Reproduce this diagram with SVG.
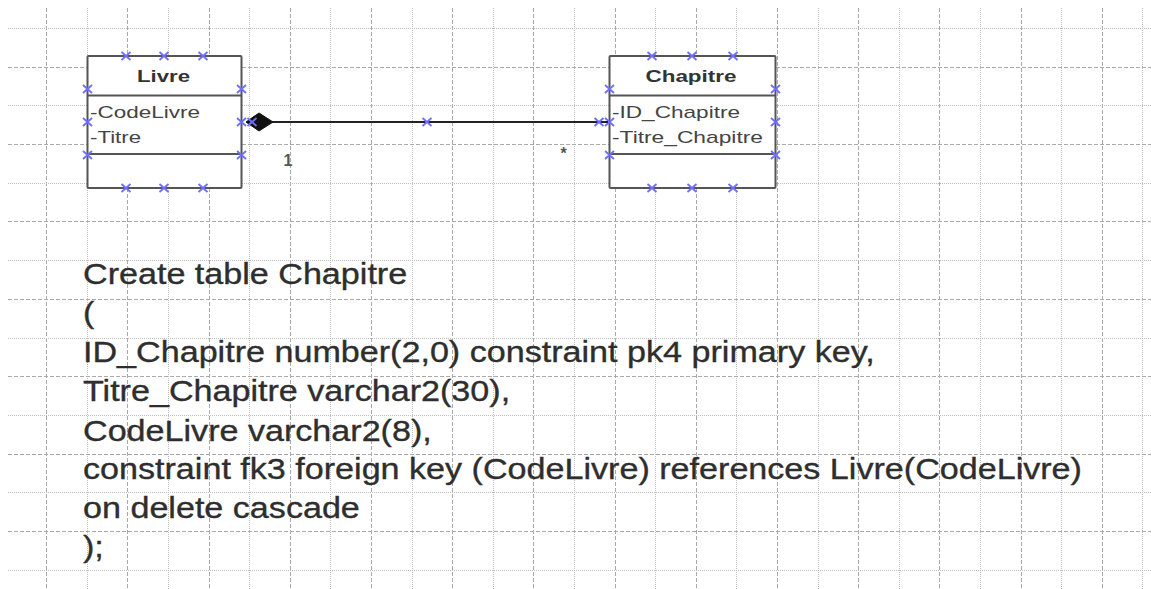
<svg xmlns="http://www.w3.org/2000/svg" xmlns:xlink="http://www.w3.org/1999/xlink" width="1151" height="589" viewBox="0 0 1151 589">
<style>
.gdash{stroke:#aaaaaa;stroke-width:1;stroke-dasharray:4 2;fill:none}
.gdot{stroke:#bdbdbd;stroke-width:1;stroke-dasharray:1 1;fill:none}
.box{fill:#fff;stroke:#555;stroke-width:2}
.div{stroke:#555;stroke-width:2}
.title{font-family:"Liberation Sans",Arial,sans-serif;font-weight:bold;font-size:17px;fill:#333}
.attr{font-family:"Liberation Sans",Arial,sans-serif;font-size:17px;fill:#444}
.sql{font-family:"Liberation Sans",Arial,sans-serif;font-size:29.5px;fill:#2e2e2e;stroke:#2e2e2e;stroke-width:0.35}
.lbl{font-family:"Liberation Sans",Arial,sans-serif;font-size:16px;font-weight:bold;fill:#555}
.xm{stroke:#6f6fff;stroke-width:1.8;fill:none}
</style>
<defs>
<path id="xm" class="xm" d="M-4.5,-4L4.5,4M-4.5,4L4.5,-4"/>
</defs>
<rect width="1151" height="589" fill="#fff"/>
<g id="grid">
<path class="gdash" d="M46.5 8V589M127.5 8V589M209.5 8V589M290.5 8V589M371.5 8V589M452.5 8V589M533.5 8V589M615.5 8V589M696.5 8V589M777.5 8V589M858.5 8V589M939.5 8V589M1021.5 8V589M1102.5 8V589"/>
<path class="gdot" d="M87.5 8V589M168.5 8V589M249.5 8V589M330.5 8V589M412.5 8V589M493.5 8V589M574.5 8V589M655.5 8V589M736.5 8V589M818.5 8V589M899.5 8V589M980.5 8V589M1061.5 8V589M1142.5 8V589"/>
<path class="gdash" d="M8 67.5H1151M8 144.5H1151M8 221.5H1151M8 299.5H1151M8 376.5H1151M8 454.5H1151M8 531.5H1151"/>
<path class="gdot" d="M8 28.5H1151M8 105.5H1151M8 183.5H1151M8 260.5H1151M8 338.5H1151M8 415.5H1151M8 492.5H1151M8 570.5H1151"/>
</g>
<g id="livre">
<rect class="box" x="87.5" y="56" width="154" height="132" rx="1"/>
<path class="div" d="M87.5 95.5H241.5M87.5 154H241.5"/>
<text class="title" x="163.5" y="81.5" text-anchor="middle" textLength="53" lengthAdjust="spacingAndGlyphs">Livre</text>
<text class="attr" x="90" y="117.5" textLength="110" lengthAdjust="spacingAndGlyphs">-CodeLivre</text>
<text class="attr" x="90" y="143" textLength="51" lengthAdjust="spacingAndGlyphs">-Titre</text>
<use xlink:href="#xm" x="126" y="56"/><use xlink:href="#xm" x="164" y="56"/><use xlink:href="#xm" x="203" y="56"/>
<use xlink:href="#xm" x="126" y="188"/><use xlink:href="#xm" x="164" y="188"/><use xlink:href="#xm" x="203" y="188"/>
<use xlink:href="#xm" x="87.5" y="89"/><use xlink:href="#xm" x="87.5" y="122"/><use xlink:href="#xm" x="87.5" y="155"/>
<use xlink:href="#xm" x="241.5" y="89"/><use xlink:href="#xm" x="241.5" y="122"/><use xlink:href="#xm" x="241.5" y="155"/>
</g>
<g id="chapitre">
<rect class="box" x="609.5" y="56" width="166" height="132" rx="1"/>
<path class="div" d="M609.5 95.5H775.5M609.5 154H775.5"/>
<text class="title" x="691" y="81.5" text-anchor="middle" textLength="91" lengthAdjust="spacingAndGlyphs">Chapitre</text>
<text class="attr" x="612" y="117.5" textLength="128" lengthAdjust="spacingAndGlyphs">-ID_Chapitre</text>
<text class="attr" x="612" y="143" textLength="151" lengthAdjust="spacingAndGlyphs">-Titre_Chapitre</text>
<use xlink:href="#xm" x="652" y="56"/><use xlink:href="#xm" x="692" y="56"/><use xlink:href="#xm" x="733" y="56"/>
<use xlink:href="#xm" x="652" y="188"/><use xlink:href="#xm" x="692" y="188"/><use xlink:href="#xm" x="733" y="188"/>
<use xlink:href="#xm" x="609.5" y="89"/><use xlink:href="#xm" x="609.5" y="122"/><use xlink:href="#xm" x="609.5" y="155"/>
<use xlink:href="#xm" x="775.5" y="89"/><use xlink:href="#xm" x="775.5" y="122"/><use xlink:href="#xm" x="775.5" y="155"/>
</g>
<g id="connectors">
<path d="M272 122H608" stroke="#222" stroke-width="2" fill="none"/>
<path d="M246 122L259 113L273 122L259 131Z" fill="#111" stroke="#111" stroke-width="1"/>
<use xlink:href="#xm" x="252" y="122"/>
<use xlink:href="#xm" x="427" y="122"/>
<use xlink:href="#xm" x="599" y="122"/>
<text class="lbl" x="288" y="166" text-anchor="middle">1</text>
<text class="lbl" x="563.5" y="159" text-anchor="middle" font-size="12">*</text>
</g>
<g id="sql" transform="translate(83,0) scale(1.157,1)">
<text class="sql" x="0" y="284">Create table Chapitre</text>
<text class="sql" x="0" y="323">(</text>
<text class="sql" x="0" y="362">ID_Chapitre number(2,0) constraint pk4 primary key,</text>
<text class="sql" x="0" y="401">Titre_Chapitre varchar2(30),</text>
<text class="sql" x="0" y="441">CodeLivre varchar2(8),</text>
<text class="sql" x="0" y="479">constraint fk3 foreign key (CodeLivre) references Livre(CodeLivre)</text>
<text class="sql" x="0" y="518">on delete cascade</text>
<text class="sql" x="0" y="557">);</text>
</g>
</svg>
